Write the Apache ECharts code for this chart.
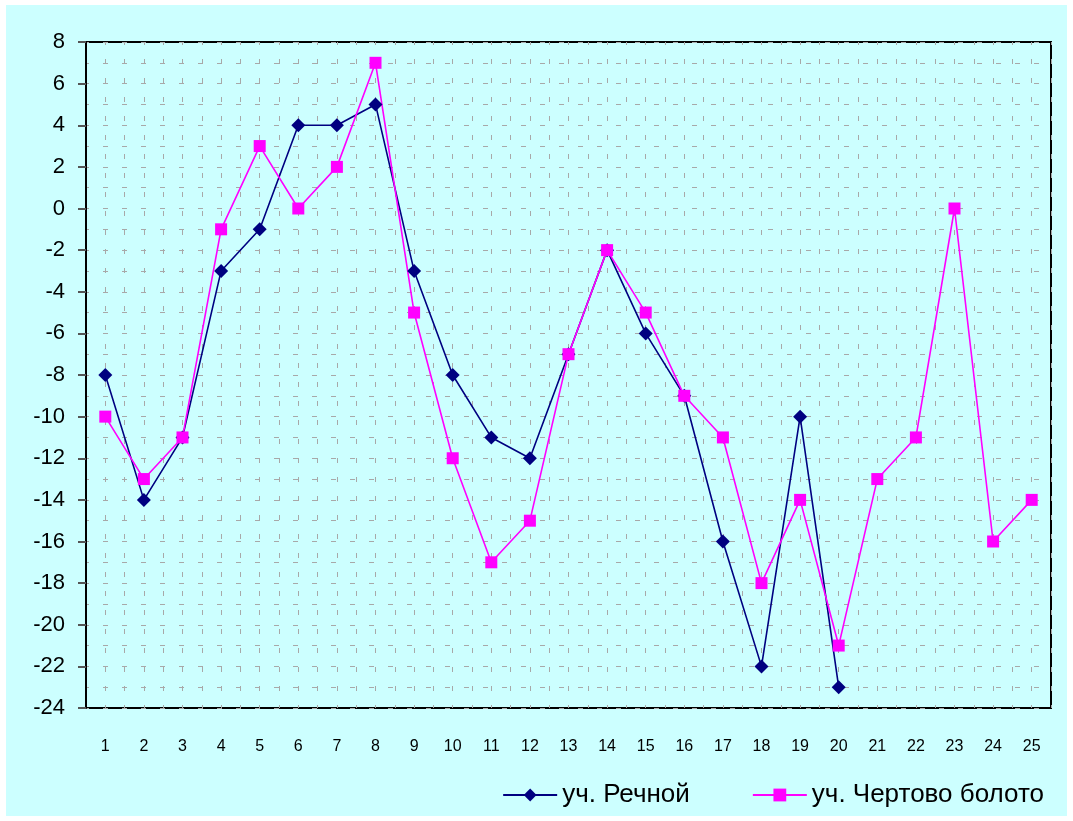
<!DOCTYPE html>
<html><head><meta charset="utf-8">
<script src="https://cdn.jsdelivr.net/npm/echarts@6/dist/echarts.min.js"></script>
<style>html,body{margin:0;padding:0;background:#fff}#c{width:1073px;height:821px}</style>
</head><body><div id="c"></div>
<script>
var categories = [1,2,3,4,5,6,7,8,9,10,11,12,13,14,15,16,17,18,19,20,21,22,23,24,25];
var rechnoy = [-8,-14,-11,-3,-1,4,4,5,-3,-8,-11,-12,-7,-2,-6,-9,-16,-22,-10,-23];
var chertovo = [-10,-13,-11,-1,3,0,2,7,-5,-12,-17,-15,-7,-2,-5,-9,-11,-18,-14,-21,-13,-11,0,-16,-14];
var seriesNames = ['уч. Речной','уч. Чертово болото'];

function pairs(vals){ return vals.map(function(v,i){ return [categories[i], v]; }); }

var chart = echarts.init(document.getElementById('c'));
var dash = {color:'#a8a8a8', width:1, type:[5,14], dashOffset:2};
chart.setOption({
  backgroundColor:'#ffffff',
  animation:false,
  graphic:[{type:'rect', z:-10, silent:true, shape:{x:6,y:5,width:1061,height:811}, style:{fill:'#ccffff'}}],
  grid:{left:86, right:22, top:42, bottom:113, show:true, borderColor:'#000', borderWidth:2, backgroundColor:'#ccffff'},
  xAxis:{type:'value', min:0.5, max:25.5, interval:0.5,
    axisLine:{show:false}, axisTick:{show:false},
    axisLabel:{fontFamily:'Liberation Sans, Arial', fontSize:16, color:'#000', margin:31,
      formatter:function(v){ return (Math.abs(v-Math.round(v))<1e-6) ? String(Math.round(v)) : ''; }},
    splitLine:{show:true, lineStyle:dash}},
  yAxis:{type:'value', min:-24, max:8, interval:2,
    axisLine:{show:true, lineStyle:{color:'#000', width:2}},
    axisTick:{show:true, inside:false, length:8, lineStyle:{color:'#555', width:2}},
    axisLabel:{fontFamily:'Liberation Sans, Arial', fontSize:22, color:'#000', margin:21},
    splitLine:{show:true, lineStyle:dash},
    minorTick:{show:false, splitNumber:2},
    minorSplitLine:{show:true, lineStyle:dash}},
  legend:{top:777, right:24, itemWidth:54, itemHeight:16, itemGap:62,
    textStyle:{fontFamily:'Liberation Sans, Arial', fontSize:26, color:'#000'},
    data:seriesNames},
  series:[
    {name:seriesNames[0], type:'line', data:pairs(rechnoy), symbol:'diamond', symbolSize:14,
      lineStyle:{color:'#000080', width:1.6}, itemStyle:{color:'#000080'}},
    {name:seriesNames[1], type:'line', data:pairs(chertovo), symbol:'rect', symbolSize:12,
      lineStyle:{color:'#ff00ff', width:1.6}, itemStyle:{color:'#ff00ff'}}
  ]
});
</script></body></html>
